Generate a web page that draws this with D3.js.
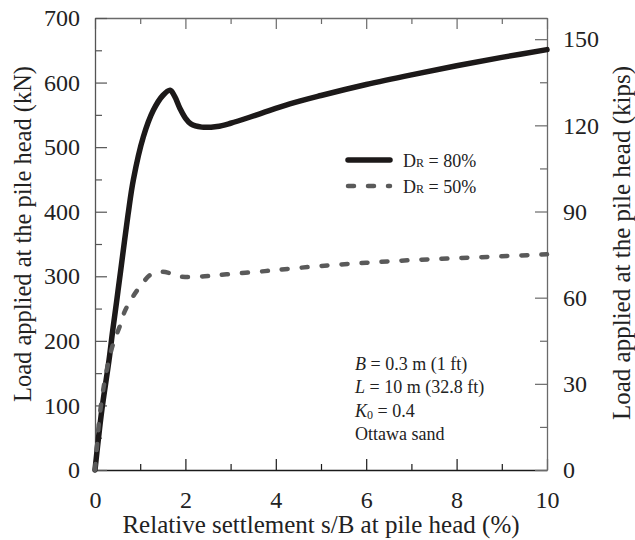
<!DOCTYPE html>
<html>
<head>
<meta charset="utf-8">
<script src="https://cdn.jsdelivr.net/npm/d3@7"></script>
<style>
  body { margin: 0; background: #fff; }
  svg { display: block; font-family: "Liberation Serif", "Times New Roman", serif; }
</style>
</head>
<body>
<svg id="chart" width="635" height="540"></svg>
<script>
// D_R = 80% curve (settlement %, load kN)
var settle80 = [0, 0.07, 0.155, 0.31, 0.39, 0.48, 0.57, 0.73, 0.85, 1.07, 1.29, 1.5, 1.66, 1.76, 1.88, 2.0, 2.12, 2.36, 2.7, 3.0, 3.58, 4.31, 5, 6, 7, 8, 9, 10];
var load80 = [0, 45, 95, 170, 215, 262, 310, 395, 450, 516, 557, 580, 588, 579, 560, 545, 536, 531, 532, 537, 550, 567, 580, 597, 612, 626, 639, 651];
// D_R = 50% curve
var settle50 = [0, 0.05, 0.1, 0.2, 0.3, 0.4, 0.54, 0.66, 0.8, 0.92, 1.05, 1.22, 1.45, 1.65, 1.85, 2.0, 2.43, 2.91, 3.76, 4.2, 5, 6, 7, 8, 9, 10];
var load50 = [0, 42, 82, 132, 168, 195, 221, 246, 264, 277, 289, 302, 307, 305, 300, 299, 300, 303, 308, 311, 316, 321, 325, 328, 331, 334];

var xMajor = [0, 2, 4, 6, 8, 10];
var xMinor = [1, 3, 5, 7, 9];
var yMajor = [0, 100, 200, 300, 400, 500, 600, 700];
var yMinor = [50, 150, 250, 350, 450, 550, 650];
var kipsMajor = [0, 30, 60, 90, 120, 150];
var kipsMinor = [15, 45, 75, 105, 135];
var KN_PER_KIP = 4.448;

var legendItems = [
  { label: '80%', dash: null, color: '#1c1919', width: 5.5 },
  { label: '50%', dash: '6,14', color: '#5a5a5a', width: 4.5 }
];
var notes = [
  { v: 'B', sub: '', rest: ' = 0.3 m (1 ft)' },
  { v: 'L', sub: '', rest: ' = 10 m (32.8 ft)' },
  { v: 'K', sub: '0', rest: ' = 0.4' },
  { v: '', sub: '', rest: 'Ottawa sand' }
];

var FONT = '"Liberation Serif", "Times New Roman", serif';
var svg = d3.select('#chart');
var plotL = 95, plotR = 547, plotT = 18, plotB = 470;

var x = d3.scaleLinear().domain([0, 10]).range([plotL, plotR]);
var y = d3.scaleLinear().domain([0, 700]).range([plotB, plotT]);
var yK = d3.scaleLinear().domain([0, 700 / KN_PER_KIP]).range([plotB, plotT]);

function styleAxis(g, color) {
  g.attr('font-family', FONT).attr('font-size', 24);
  g.select('.domain').attr('stroke', color).attr('stroke-width', 1.3);
  g.selectAll('.tick line').attr('stroke', color).attr('stroke-width', 1.2);
  g.selectAll('.tick text').attr('fill', '#222');
}

function addAxis(axis, tx, ty, color, keepDomain) {
  var g = svg.append('g').attr('transform', 'translate(' + tx + ',' + ty + ')').call(axis);
  styleAxis(g, color);
  if (!keepDomain) g.select('.domain').remove();
  return g;
}

// bottom
addAxis(d3.axisBottom(x).tickValues(xMajor).tickSizeInner(-11).tickSizeOuter(0).tickPadding(21), 0, plotB, '#1a1a1a', true);
addAxis(d3.axisBottom(x).tickValues(xMinor).tickSize(-6).tickFormat(''), 0, plotB, '#1a1a1a', false);
// top
addAxis(d3.axisTop(x).tickValues(xMajor).tickSizeInner(-11).tickSizeOuter(0).tickFormat(''), 0, plotT, '#6a6a6a', true);
addAxis(d3.axisTop(x).tickValues(xMinor).tickSize(-6).tickFormat(''), 0, plotT, '#6a6a6a', false);
// left (kN)
addAxis(d3.axisLeft(y).tickValues(yMajor).tickSizeInner(-12).tickSizeOuter(0).tickPadding(15), plotL, 0, '#555', true);
addAxis(d3.axisLeft(y).tickValues(yMinor).tickSize(-7).tickFormat(''), plotL, 0, '#555', false);
// right (kips)
addAxis(d3.axisRight(yK).tickValues(kipsMajor).tickSizeInner(-12).tickSizeOuter(0).tickPadding(16), plotR, 0, '#6a6a6a', true);
addAxis(d3.axisRight(yK).tickValues(kipsMinor).tickSize(-7).tickFormat(''), plotR, 0, '#6a6a6a', false);

// axis titles
svg.append('text')
  .attr('x', (plotL + plotR) / 2).attr('y', 533)
  .attr('text-anchor', 'middle').attr('font-size', 25).attr('fill', '#222')
  .text('Relative settlement s/B at pile head (%)');
svg.append('text')
  .attr('transform', 'translate(31,234) rotate(-90)')
  .attr('text-anchor', 'middle').attr('font-size', 24.5).attr('fill', '#222')
  .text('Load applied at the pile head (kN)');
svg.append('text')
  .attr('transform', 'translate(630,243) rotate(-90)')
  .attr('text-anchor', 'middle').attr('font-size', 25).attr('fill', '#222')
  .text('Load applied at the pile head (kips)');

// curves
var line = d3.line()
  .x(function (d) { return x(d[0]); })
  .y(function (d) { return y(d[1]); })
  .curve(d3.curveCatmullRom.alpha(0.5));

var data80 = settle80.map(function (s, i) { return [s, load80[i]]; });
var data50 = settle50.map(function (s, i) { return [s, load50[i]]; });

svg.append('path').datum(data80)
  .attr('d', line).attr('fill', 'none')
  .attr('stroke', legendItems[0].color).attr('stroke-width', legendItems[0].width)
  .attr('stroke-linecap', 'round').attr('stroke-linejoin', 'round');
svg.append('path').datum(data50)
  .attr('d', line).attr('fill', 'none')
  .attr('stroke', legendItems[1].color).attr('stroke-width', legendItems[1].width)
  .attr('stroke-dasharray', legendItems[1].dash)
  .attr('stroke-linecap', 'round');

// legend
var legend = svg.append('g').selectAll('g').data(legendItems).enter().append('g')
  .attr('transform', function (d, i) { return 'translate(348,' + (160 + i * 26) + ')'; });
legend.append('line')
  .attr('x1', 0).attr('x2', 42).attr('y1', 0).attr('y2', 0)
  .attr('stroke', function (d) { return d.color; })
  .attr('stroke-width', function (d) { return d.width; })
  .attr('stroke-dasharray', function (d) { return d.dash; })
  .attr('stroke-linecap', 'round');
var lt = legend.append('text').attr('x', 55).attr('y', 7)
  .attr('font-size', 18).attr('fill', '#222');
lt.append('tspan').text('D');
lt.append('tspan').attr('font-size', 12).text('R');
lt.append('tspan').text(function (d) { return ' = ' + d.label; });

// notes
var nt = svg.append('g').selectAll('text').data(notes).enter().append('text')
  .attr('x', 355).attr('y', function (d, i) { return 370 + i * 23.3; })
  .attr('font-size', 18).attr('fill', '#222');
nt.append('tspan').attr('font-style', 'italic').text(function (d) { return d.v; });
nt.append('tspan').attr('font-size', 12).attr('dy', 2).text(function (d) { return d.sub; });
nt.append('tspan').attr('dy', function (d) { return d.sub ? -2 : 0; }).text(function (d) { return d.rest; });
</script>
</body>
</html>
